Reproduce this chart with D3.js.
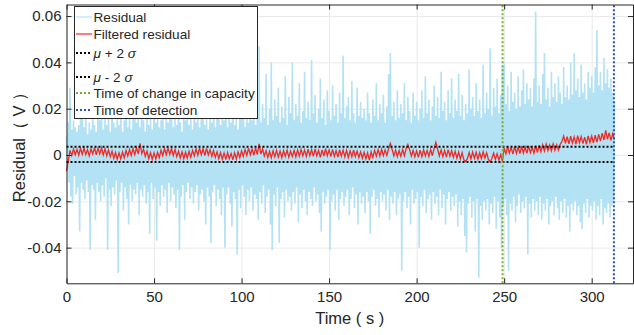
<!DOCTYPE html>
<head>
 <meta charset="utf-8">
 <script src="https://cdn.jsdelivr.net/npm/d3@7/dist/d3.min.js"></script>
 <title>Residual</title>
</head>

<style>
body{
  margin: 0;
  background-color: white;
}
text{
  font-family: "Liberation Sans", Arial, Helvetica, sans-serif;
  fill: #262626;
}
</style>

<body>
 <div id="chart"></div>
</body>

<script type="text/javascript">
 // residual samples, every 0.5 s, in mV
 var residualMv = [
   8,-6,14,-12,29,-18,11,-21,15,-9,12,-17,10,-14,13,-33,16,-12,24,-15,
   12,-19,17,-11,9,-16,14,-41,11,-13,20,-15,13,-28,10,-12,18,-16,15,-20,
   22,-13,11,-18,16,-10,13,-41,19,-15,10,-22,26,-14,14,-17,12,-11,17,-51,
   13,-16,21,-12,10,-24,15,-14,28,-19,12,-30,18,-13,11,-20,16,-15,24,-17,
   14,-12,19,-26,12,-15,30,-18,15,-13,10,-21,20,-16,13,-34,17,-12,11,-19,
   23,-14,14,-37,18,-16,12,-22,15,-13,27,-18,11,-15,19,-25,14,-12,16,-20,
   21,-14,12,-17,17,-23,13,-15,25,-41,14,-18,10,-13,19,-28,15,-16,22,-12,
   13,-19,18,-14,11,-21,32,-16,14,-13,20,-24,12,-17,17,-15,24,-20,13,-30,
   16,-14,11,-18,19,-38,14,-16,28,-13,12,-22,17,-15,21,-19,13,-26,18,-14,
   15,-40,23,-17,12,-14,19,-21,14,-31,30,-16,13,-19,18,-43,11,-15,20,-23,
   16,-13,25,-18,12,-26,19,-15,14,-20,33,-14,15,-24,21,-17,13,-19,18,-28,
   47,-16,14,-21,22,-13,16,-25,35,-18,13,-15,20,-30,40,-41,15,-17,24,-22,
   17,-14,29,-38,14,-19,21,-16,16,-27,34,-15,13,-20,25,-18,18,-24,40,-16,
   15,-21,22,-14,17,-29,31,-17,14,-23,19,-15,36,-20,16,-26,23,-16,15,-19,
   41,-22,18,-14,26,-20,14,-17,20,-25,33,-33,16,-16,24,-21,13,-18,28,-15,
   19,-41,15,-20,30,-17,17,-24,22,-15,14,-28,27,-19,18,-16,43,-22,16,-18,
   21,-15,25,-26,15,-19,32,-14,18,-23,14,-17,29,-30,17,-16,23,-21,16,-18,
   20,-25,15,-16,27,-20,18,-34,14,-18,24,-15,17,-22,31,-19,15,-27,22,-16,
   18,-20,26,-17,14,-24,21,-15,35,-28,44,-18,17,-21,23,-16,15,-26,28,-19,
   16,-17,22,-50,18,-20,31,-16,15,-23,25,-18,19,-30,14,-15,27,-21,17,-19,
   23,-16,15,-40,20,-18,28,-22,16,-15,34,-25,18,-19,24,-17,15,-28,21,-16,
   30,-21,17,-18,25,-26,16,-15,36,-23,19,-17,23,-30,15,-19,28,-16,18,-24,
   33,-18,16,-22,24,-17,19,-31,35,-20,17,-26,26,-19,15,-35,22,-42,18,-21,
   37,-18,20,-27,25,-20,17,-33,31,-19,19,-53,24,-22,16,-28,39,-20,18,-24,
   27,-19,20,-30,46,-21,17,-25,29,-18,21,-32,33,-20,18,-27,26,-40,38,-22,
   40,-19,22,-26,30,-50,19,-21,36,-24,23,-18,27,-29,20,-22,34,-17,21,-25,
   28,-20,37,-23,22,-18,31,-43,24,-21,29,-27,21,-19,33,-24,62,-20,23,-26,
   30,-18,22,-28,35,-21,44,-24,24,-19,29,-30,21,-22,36,-20,25,-26,31,-18,
   23,-23,34,-28,27,-20,22,-25,38,-19,25,-27,30,-22,24,-33,40,-21,26,-24,
   44,-20,28,-26,33,-22,25,-29,39,-32,27,-21,31,-25,24,-19,36,-27,29,-22,
   34,-24,27,-20,38,-28,54,-22,30,-26,36,-19,28,-30,42,-23,31,-25,37,-21,
   29,-27,33,-22,27,-20,23
 ];
 var residualStep = 0.5;

 // filtered residual, every 1 s, in mV
 var filteredMv = [
   -7,-2.5,2.0,-0.2,2.6,0.1,2.5,-0.1,2.9,0.3,
   3.0,0.2,2.3,-0.4,2.7,0.4,3.2,0.1,3.0,0.5,
   3.1,0.0,2.7,-0.3,2.2,-0.7,1.7,-1.4,1.1,-1.8,
   0.9,-1.7,1.3,-1.2,2.0,-0.5,2.4,-0.2,2.8,0.1,
   3.1,0.4,5.0,0.6,2.6,-0.6,1.7,-1.6,1.0,-1.9,
   0.9,-1.7,1.2,-1.1,2.1,-0.3,2.8,0.1,3.0,0.3,
   2.8,-0.2,2.4,-0.7,1.7,-1.3,1.4,-1.6,1.2,-1.3,
   1.6,-1.0,2.0,-0.4,2.6,-0.1,3.0,0.1,2.7,-0.2,
   2.9,0.0,2.3,-0.6,2.0,-1.0,1.4,-1.5,1.0,-1.8,
   0.9,-2.0,1.1,-1.6,0.7,-2.1,1.0,-1.7,1.3,-1.1,
   1.8,-0.6,2.4,-0.2,3.0,0.1,2.6,-0.1,3.1,0.2,
   4.8,0.4,2.7,-0.5,1.9,-1.1,1.6,-1.2,1.8,-0.8,
   2.0,-0.9,1.7,-1.1,1.9,-0.6,2.1,-1.0,1.6,-0.7,
   2.0,-0.8,2.2,-0.5,2.4,-0.4,2.1,-0.6,2.5,-0.3,
   2.3,-0.6,2.6,-0.4,2.0,-1.0,2.2,-0.5,2.7,-0.3,
   2.2,-0.7,2.4,-0.6,1.9,-0.9,2.3,-0.5,2.1,-0.8,
   2.0,-1.0,1.8,-0.8,2.2,-0.7,1.7,-1.1,1.4,-1.4,
   1.2,-1.6,1.0,-2.2,1.4,-1.0,2.0,-0.5,2.3,-0.4,
   2.5,-0.3,2.2,-0.2,2.8,5.0,2.4,-0.4,2.1,-0.7,
   1.9,-0.6,2.4,-0.3,2.7,4.5,2.3,-0.5,2.0,-0.8,
   1.8,-1.0,2.1,-0.7,2.3,-0.4,2.0,-0.6,2.4,-0.3,
   2.9,5.5,2.5,-0.4,2.2,-0.7,2.0,-0.9,2.3,-0.5,
   1.9,-1.0,1.6,-1.4,1.3,-1.7,1.0,-2.1,-2.8,-1.6,
   1.1,-1.7,1.3,-1.4,1.2,-1.8,1.0,-1.5,1.4,-1.3,
   1.0,-1.9,-3.0,-1.4,0.9,-2.0,0.6,-2.2,0.2,-2.6,
   3.0,0.5,3.6,0.8,3.2,0.4,3.7,0.7,3.4,0.6,
   3.8,0.9,3.5,0.7,3.9,1.0,3.4,0.8,4.0,1.1,
   4.2,1.4,4.4,1.7,4.7,1.9,4.3,1.8,4.8,2.0,
   4.5,2.1,4.6,5.8,8.2,5.0,7.9,4.8,8.1,5.2,
   7.8,4.7,8.4,5.3,8.0,4.9,7.7,4.6,8.3,5.4,
   8.2,5.2,8.6,5.6,8.9,6.0,9.4,6.4,10.6,6.8,
   9.6,6.3,9.2,6.7
 ];
 var filteredStep = 1;

 var thresholdsMv = [3.6, -3.0];   // mu + 2 sigma, mu - 2 sigma
 var changeTime = 249.1;
 var detectionTime = 312.7;

 var xTicks = [0, 50, 100, 150, 200, 250, 300];
 var yTicks = [-0.04, -0.02, 0, 0.02, 0.04, 0.06];
 var legendNames = ["Residual", "Filtered residual", "mu+", "mu-",
                    "Time of change in capacity", "Time of detection"];

 var props = {
   width: 634,
   height: 335,
   left: 66.5,
   right: 633,
   top: 4.5,
   bottom: 283.3
 }
 var colors = {
   residual: "#b4e2f5",
   filtered: "#ee2a26",
   threshold: "#000000",
   change: "#77ac30",
   detection: "#2c50b4",
   axis: "#262626",
   grid: "#e9e9e9"
 }

 var svg = d3.select("#chart").append("svg")
   .attr("width", props.width).attr("height", props.height);
 svg.append("rect").attr("width", props.width).attr("height", props.height).attr("fill", "white");

 var x = d3.scaleLinear().domain([0, 323.6]).range([props.left, props.right]);
 var y = d3.scaleLinear().domain([-0.0554, 0.065]).range([props.bottom, props.top]);
 var plotW = props.right - props.left, plotH = props.bottom - props.top;

 // grid
 svg.append("g").attr("transform", "translate(0," + props.bottom + ")")
   .call(d3.axisBottom(x).tickValues(xTicks).tickSize(-plotH).tickFormat(""))
   .call(g => g.select(".domain").remove())
   .selectAll("line").attr("stroke", colors.grid);
 svg.append("g").attr("transform", "translate(" + props.left + ",0)")
   .call(d3.axisLeft(y).tickValues(yTicks).tickSize(-plotW).tickFormat(""))
   .call(g => g.select(".domain").remove())
   .selectAll("line").attr("stroke", colors.grid);

 // data
 var line = d3.line().x(d => x(d[0])).y(d => y(d[1]));
 svg.append("path")
   .datum(residualMv.map((v, i) => [i * residualStep, v / 1000]))
   .attr("d", line).attr("fill", "none")
   .attr("stroke", colors.residual).attr("stroke-width", 1.6);
 svg.append("path")
   .datum(filteredMv.map((v, i) => [i * filteredStep, v / 1000]))
   .attr("d", line).attr("fill", "none")
   .attr("stroke", colors.filtered).attr("stroke-width", 1.3);

 var endTime = (residualMv.length - 1) * residualStep;
 thresholdsMv.forEach(function(t){
   svg.append("path")
     .datum([[0, t / 1000], [endTime, t / 1000]])
     .attr("d", line).attr("fill", "none")
     .attr("stroke", colors.threshold).attr("stroke-width", 2)
     .attr("stroke-dasharray", "2,2");
 });
 [[changeTime, colors.change], [detectionTime, colors.detection]].forEach(function(v){
   svg.append("path")
     .datum([[v[0], y.domain()[0]], [v[0], y.domain()[1]]])
     .attr("d", line).attr("fill", "none")
     .attr("stroke", v[1]).attr("stroke-width", 2)
     .attr("stroke-dasharray", "2,2");
 });

 // axes (box, ticks inward)
 function styleAxis(g){
   g.select(".domain").attr("stroke", colors.axis);
   g.selectAll(".tick line").attr("stroke", colors.axis);
   g.selectAll("text").style("font-size", "15px").attr("fill", colors.axis);
 }
 svg.append("g").attr("transform", "translate(0," + props.bottom + ")")
   .call(d3.axisBottom(x).tickValues(xTicks).tickSizeInner(-5).tickSizeOuter(0).tickPadding(8))
   .call(styleAxis);
 svg.append("g").attr("transform", "translate(0," + props.top + ")")
   .call(d3.axisTop(x).tickValues(xTicks).tickSizeInner(-5).tickSizeOuter(0).tickFormat(""))
   .call(styleAxis);
 svg.append("g").attr("transform", "translate(" + props.left + ",0)")
   .call(d3.axisLeft(y).tickValues(yTicks).tickSizeInner(-5).tickSizeOuter(0).tickPadding(5)
     .tickFormat(d => d === 0 ? "0" : d.toFixed(2)))
   .call(styleAxis);
 svg.append("g").attr("transform", "translate(" + props.right + ",0)")
   .call(d3.axisRight(y).tickValues(yTicks).tickSizeInner(-5).tickSizeOuter(0).tickFormat(""))
   .call(styleAxis);

 // axis labels
 svg.append("text").attr("x", (props.left + props.right) / 2).attr("y", 324)
   .attr("text-anchor", "middle").style("font-size", "16.5px").text("Time ( s )");
 svg.append("text").attr("transform", "translate(25,143) rotate(-90)")
   .attr("text-anchor", "middle").style("font-size", "16.5px")
   .attr("xml:space", "preserve").text("Residual（ V ）");

 // legend
 var lg = svg.append("g");
 lg.append("rect").attr("x", 74.5).attr("y", 6.5).attr("width", 183).attr("height", 112)
   .attr("fill", "white").attr("stroke", colors.axis).attr("stroke-width", 1);
 var rowY = [17, 34, 53, 77, 93, 110];
 var legendStyle = [
   [colors.residual, null], [colors.filtered, null],
   [colors.threshold, "2,2"], [colors.threshold, "2,2"],
   [colors.change, "2,2"], [colors.detection, "2,2"]
 ];
 legendNames.forEach(function(name, i){
   lg.append("line").attr("x1", 76).attr("x2", 92).attr("y1", rowY[i]).attr("y2", rowY[i])
     .attr("stroke", legendStyle[i][0]).attr("stroke-width", legendStyle[i][1] ? 2 : 1.2)
     .attr("stroke-dasharray", legendStyle[i][1]);
   var t = lg.append("text").attr("x", 93.5).attr("y", rowY[i]).attr("dy", "0.36em")
     .style("font-size", "13.6px");
   if(name.indexOf("mu") === 0){
     t.attr("fill", "#000");
     t.append("tspan").style("font-style", "italic").text("μ");
     t.append("tspan").text(name === "mu+" ? " + 2 " : " - 2 ");
     t.append("tspan").style("font-style", "italic").text("σ");
   } else {
     t.text(name);
   }
 });
</script>
